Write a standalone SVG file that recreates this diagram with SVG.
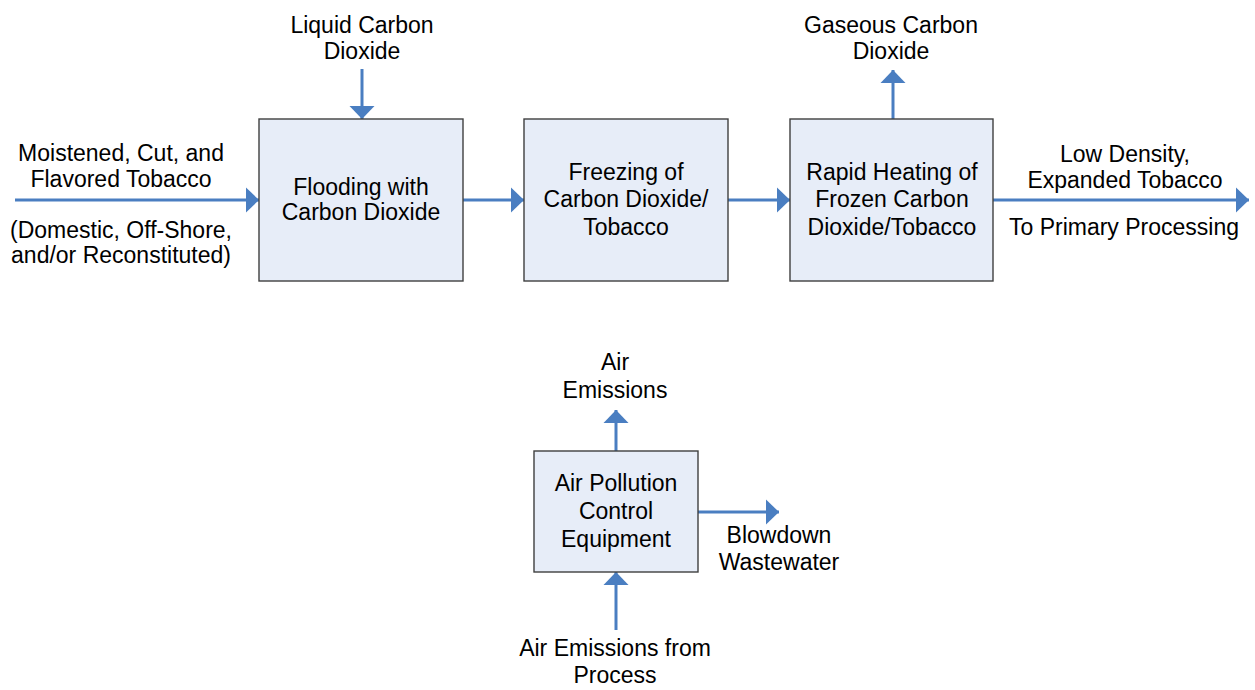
<svg xmlns="http://www.w3.org/2000/svg" width="1255" height="690" viewBox="0 0 1255 690">
<style>
.box{fill:#E7EDF8;stroke:#3F3F3F;stroke-width:1.4}
.t{font-family:"Liberation Sans",Arial,sans-serif;font-size:23px;fill:#000;text-anchor:middle}
.c{stroke:#4A7EC1;stroke-width:3;fill:none}
</style>
<defs>
<marker id="ah" markerUnits="userSpaceOnUse" markerWidth="14" markerHeight="26" refX="13" refY="12.5" orient="auto" viewBox="0 0 14 25">
<path d="M0,0 L13,12.5 L0,25 Z" fill="#4A7EC1"/>
</marker>
</defs>
<rect width="1255" height="690" fill="#fff"/>
<g id="connectors">
<line class="c" x1="15" y1="200" x2="259" y2="200" marker-end="url(#ah)"/>
<line class="c" x1="463" y1="200" x2="524" y2="200" marker-end="url(#ah)"/>
<line class="c" x1="728" y1="200" x2="790" y2="200" marker-end="url(#ah)"/>
<line class="c" x1="993" y1="200" x2="1249" y2="200" marker-end="url(#ah)"/>
<line class="c" x1="362" y1="69" x2="362" y2="119" marker-end="url(#ah)"/>
<line class="c" x1="893" y1="119" x2="893" y2="70" marker-end="url(#ah)"/>
<line class="c" x1="616" y1="451" x2="616" y2="410" marker-end="url(#ah)"/>
<line class="c" x1="698" y1="512" x2="779" y2="512" marker-end="url(#ah)"/>
<line class="c" x1="616" y1="630" x2="616" y2="572" marker-end="url(#ah)"/>
</g>
<g id="labels">
<text class="t" x="121" y="161">Moistened, Cut, and</text>
<text class="t" x="121" y="187">Flavored Tobacco</text>
<text class="t" x="121" y="238">(Domestic, Off-Shore,</text>
<text class="t" x="121" y="263">and/or Reconstituted)</text>
<text class="t" x="362" y="33">Liquid Carbon</text>
<text class="t" x="362" y="59">Dioxide</text>
<text class="t" x="891" y="33">Gaseous Carbon</text>
<text class="t" x="891" y="59">Dioxide</text>
<text class="t" x="1125" y="162">Low Density,</text>
<text class="t" x="1125" y="188">Expanded Tobacco</text>
<text class="t" x="1124" y="235">To Primary Processing</text>
<text class="t" x="615" y="370">Air</text>
<text class="t" x="615" y="398">Emissions</text>
<text class="t" x="779" y="543">Blowdown</text>
<text class="t" x="779" y="570">Wastewater</text>
<text class="t" x="615" y="656">Air Emissions from</text>
<text class="t" x="615" y="683">Process</text>
</g>
<g id="n1">
<rect class="box" x="259" y="119" width="204" height="162"/>
<text class="t" x="361" y="195">Flooding with</text>
<text class="t" x="361" y="220">Carbon Dioxide</text>
</g>
<g id="n2">
<rect class="box" x="524" y="119" width="204" height="162"/>
<text class="t" x="626" y="180">Freezing of</text>
<text class="t" x="626" y="207">Carbon Dioxide/</text>
<text class="t" x="626" y="235">Tobacco</text>
</g>
<g id="n3">
<rect class="box" x="790" y="119" width="203" height="162"/>
<text class="t" x="892" y="180">Rapid Heating of</text>
<text class="t" x="892" y="207">Frozen Carbon</text>
<text class="t" x="892" y="235">Dioxide/Tobacco</text>
</g>
<g id="n4">
<rect class="box" x="534" y="451" width="164" height="121"/>
<text class="t" x="616" y="491">Air Pollution</text>
<text class="t" x="616" y="519">Control</text>
<text class="t" x="616" y="547">Equipment</text>
</g>
</svg>
